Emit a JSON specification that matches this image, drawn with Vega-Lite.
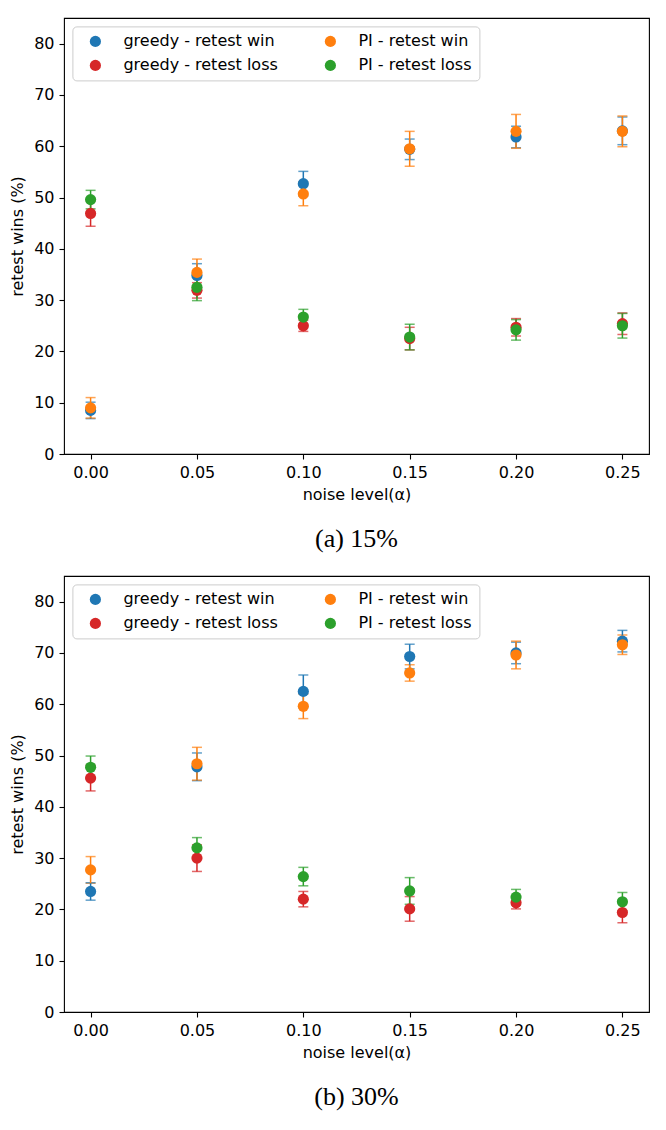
{
  "$schema": "https://vega.github.io/schema/vega-lite/v6.json",
  "padding": {"left": 9, "top": 17, "right": 10, "bottom": 5},
  "spacing": 22,
  "background": "white",
  "config": {
    "font": "DejaVu Sans",
    "view": {"stroke": "black", "strokeWidth": 1.1},
    "axis": {
      "grid": false,
      "domain": false,
      "ticks": true,
      "tickColor": "black",
      "tickSize": 5,
      "tickWidth": 1.1,
      "labelFont": "DejaVu Sans",
      "labelFontSize": 16,
      "labelColor": "black",
      "labelPadding": 5,
      "titleFont": "DejaVu Sans",
      "titleFontSize": 16,
      "titleFontWeight": "normal",
      "titleColor": "black"
    },
    "legend": {"title": null, "orient": "none", "legendX": 8.4, "legendY": 8.4, "columns": 2, "symbolType": "circle", "symbolSize": 125, "symbolStrokeWidth": 0, "symbolOpacity": 1, "labelFontSize": 16, "labelFont": "DejaVu Sans", "labelColor": "black", "fillColor": "white", "strokeColor": "#cccccc", "cornerRadius": 4, "padding": 7, "rowPadding": 8, "columnPadding": 36, "labelOffset": 20, "symbolOffset": 8, "labelLimit": 300}
  },
  "datasets": {
    "d": [
      {"panel": "a", "x": 0.0, "series": "greedy - retest win", "y": 8.5, "err": 1.6},
      {"panel": "a", "x": 0.05, "series": "greedy - retest win", "y": 34.8, "err": 2.3},
      {"panel": "a", "x": 0.1, "series": "greedy - retest win", "y": 52.7, "err": 2.4},
      {"panel": "a", "x": 0.15, "series": "greedy - retest win", "y": 59.4, "err": 2.0},
      {"panel": "a", "x": 0.2, "series": "greedy - retest win", "y": 61.8, "err": 2.1},
      {"panel": "a", "x": 0.25, "series": "greedy - retest win", "y": 63.0, "err": 2.7},
      {"panel": "a", "x": 0.0, "series": "greedy - retest loss", "y": 46.9, "err": 2.5},
      {"panel": "a", "x": 0.05, "series": "greedy - retest loss", "y": 31.9, "err": 1.5},
      {"panel": "a", "x": 0.1, "series": "greedy - retest loss", "y": 25.0, "err": 1.1},
      {"panel": "a", "x": 0.15, "series": "greedy - retest loss", "y": 22.5, "err": 2.2},
      {"panel": "a", "x": 0.2, "series": "greedy - retest loss", "y": 24.7, "err": 1.7},
      {"panel": "a", "x": 0.25, "series": "greedy - retest loss", "y": 25.4, "err": 2.1},
      {"panel": "a", "x": 0.0, "series": "PI - retest win", "y": 9.0, "err": 2.0},
      {"panel": "a", "x": 0.05, "series": "PI - retest win", "y": 35.4, "err": 2.6},
      {"panel": "a", "x": 0.1, "series": "PI - retest win", "y": 50.7, "err": 2.3},
      {"panel": "a", "x": 0.15, "series": "PI - retest win", "y": 59.5, "err": 3.4},
      {"panel": "a", "x": 0.2, "series": "PI - retest win", "y": 62.9, "err": 3.3},
      {"panel": "a", "x": 0.25, "series": "PI - retest win", "y": 62.9, "err": 3.0},
      {"panel": "a", "x": 0.0, "series": "PI - retest loss", "y": 49.6, "err": 1.8},
      {"panel": "a", "x": 0.05, "series": "PI - retest loss", "y": 32.5, "err": 2.6},
      {"panel": "a", "x": 0.1, "series": "PI - retest loss", "y": 26.7, "err": 1.5},
      {"panel": "a", "x": 0.15, "series": "PI - retest loss", "y": 22.8, "err": 2.5},
      {"panel": "a", "x": 0.2, "series": "PI - retest loss", "y": 24.2, "err": 2.0},
      {"panel": "a", "x": 0.25, "series": "PI - retest loss", "y": 25.0, "err": 2.4},
      {"panel": "b", "x": 0.0, "series": "greedy - retest win", "y": 23.5, "err": 1.7},
      {"panel": "b", "x": 0.05, "series": "greedy - retest win", "y": 47.8, "err": 2.7},
      {"panel": "b", "x": 0.1, "series": "greedy - retest win", "y": 62.5, "err": 3.2},
      {"panel": "b", "x": 0.15, "series": "greedy - retest win", "y": 69.3, "err": 2.4},
      {"panel": "b", "x": 0.2, "series": "greedy - retest win", "y": 70.0, "err": 2.1},
      {"panel": "b", "x": 0.25, "series": "greedy - retest win", "y": 72.3, "err": 2.1},
      {"panel": "b", "x": 0.0, "series": "greedy - retest loss", "y": 45.6, "err": 2.5},
      {"panel": "b", "x": 0.05, "series": "greedy - retest loss", "y": 30.0, "err": 2.6},
      {"panel": "b", "x": 0.1, "series": "greedy - retest loss", "y": 22.0, "err": 1.5},
      {"panel": "b", "x": 0.15, "series": "greedy - retest loss", "y": 20.1, "err": 2.4},
      {"panel": "b", "x": 0.2, "series": "greedy - retest loss", "y": 21.3, "err": 1.2},
      {"panel": "b", "x": 0.25, "series": "greedy - retest loss", "y": 19.4, "err": 2.0},
      {"panel": "b", "x": 0.0, "series": "PI - retest win", "y": 27.7, "err": 2.6},
      {"panel": "b", "x": 0.05, "series": "PI - retest win", "y": 48.4, "err": 3.2},
      {"panel": "b", "x": 0.1, "series": "PI - retest win", "y": 59.6, "err": 2.4},
      {"panel": "b", "x": 0.15, "series": "PI - retest win", "y": 66.1, "err": 1.6},
      {"panel": "b", "x": 0.2, "series": "PI - retest win", "y": 69.6, "err": 2.7},
      {"panel": "b", "x": 0.25, "series": "PI - retest win", "y": 71.6, "err": 1.9},
      {"panel": "b", "x": 0.0, "series": "PI - retest loss", "y": 47.7, "err": 2.2},
      {"panel": "b", "x": 0.05, "series": "PI - retest loss", "y": 32.0, "err": 2.0},
      {"panel": "b", "x": 0.1, "series": "PI - retest loss", "y": 26.4, "err": 1.8},
      {"panel": "b", "x": 0.15, "series": "PI - retest loss", "y": 23.6, "err": 2.6},
      {"panel": "b", "x": 0.2, "series": "PI - retest loss", "y": 22.4, "err": 1.5},
      {"panel": "b", "x": 0.25, "series": "PI - retest loss", "y": 21.5, "err": 1.8}
    ]
  },
  "resolve": {"legend": {"color": "independent"}, "scale": {"color": "independent"}},
  "vconcat": [
    {
      "width": 585,
      "height": 436,
      "title": {"text": "(a) 15%", "orient": "bottom", "font": "Liberation Serif", "fontSize": 26, "fontWeight": "normal", "color": "black", "offset": 24},
      "data": {"name": "d"},
      "transform": [{"filter": "datum.panel == 'a'"}],
      "encoding": {
        "x": {"field": "x", "type": "quantitative", "scale": {"domain": [-0.0125, 0.2625], "nice": false, "zero": false}, "axis": {"values": [0, 0.05, 0.1, 0.15, 0.2, 0.25], "format": ".2f", "title": "noise level(α)", "titlePadding": 6}},
        "y": {"field": "y", "type": "quantitative", "scale": {"domain": [0, 85], "nice": false}, "axis": {"values": [0, 10, 20, 30, 40, 50, 60, 70, 80], "title": "retest wins (%)", "titlePadding": 8}},
        "color": {"field": "series", "type": "nominal", "scale": {"domain": ["greedy - retest win", "greedy - retest loss", "PI - retest win", "PI - retest loss"], "range": ["#1f77b4", "#d62728", "#ff7f0e", "#2ca02c"]}}
      },
      "layer": [
        {"mark": {"type": "errorbar", "ticks": true, "size": 10, "thickness": 1.5}, "encoding": {"yError": {"field": "err"}}},
        {"mark": {"type": "point", "filled": true, "size": 125, "opacity": 1}}
      ]
    },
    {
      "width": 585,
      "height": 436,
      "title": {"text": "(b) 30%", "orient": "bottom", "font": "Liberation Serif", "fontSize": 26, "fontWeight": "normal", "color": "black", "offset": 24},
      "data": {"name": "d"},
      "transform": [{"filter": "datum.panel == 'b'"}],
      "encoding": {
        "x": {"field": "x", "type": "quantitative", "scale": {"domain": [-0.0125, 0.2625], "nice": false, "zero": false}, "axis": {"values": [0, 0.05, 0.1, 0.15, 0.2, 0.25], "format": ".2f", "title": "noise level(α)", "titlePadding": 6}},
        "y": {"field": "y", "type": "quantitative", "scale": {"domain": [0, 85], "nice": false}, "axis": {"values": [0, 10, 20, 30, 40, 50, 60, 70, 80], "title": "retest wins (%)", "titlePadding": 8}},
        "color": {"field": "series", "type": "nominal", "scale": {"domain": ["greedy - retest win", "greedy - retest loss", "PI - retest win", "PI - retest loss"], "range": ["#1f77b4", "#d62728", "#ff7f0e", "#2ca02c"]}}
      },
      "layer": [
        {"mark": {"type": "errorbar", "ticks": true, "size": 10, "thickness": 1.5}, "encoding": {"yError": {"field": "err"}}},
        {"mark": {"type": "point", "filled": true, "size": 125, "opacity": 1}}
      ]
    }
  ]
}
